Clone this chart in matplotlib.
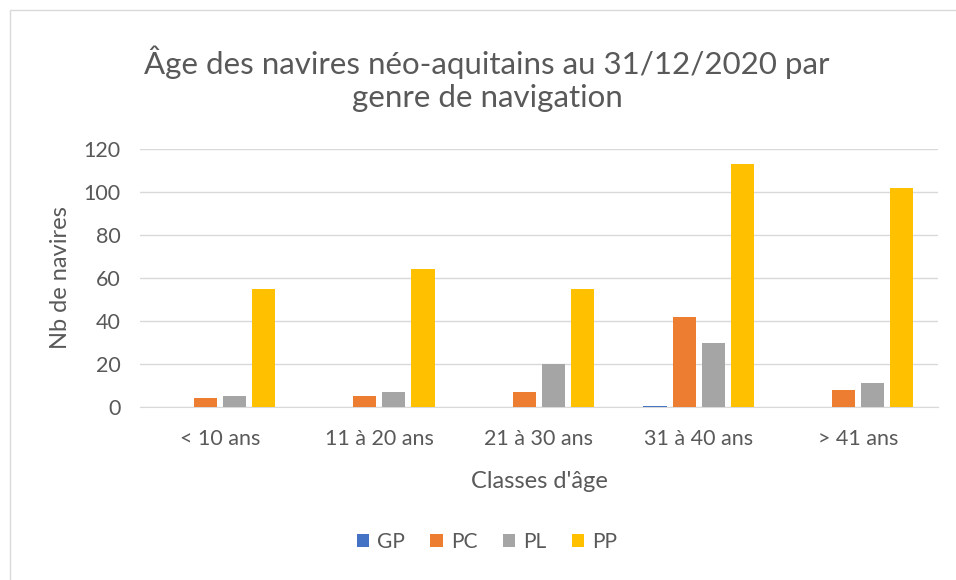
import matplotlib
matplotlib.use("Agg")
import matplotlib.pyplot as plt
import numpy as np
from matplotlib.patches import Rectangle

categories = ["< 10 ans", "11 à 20 ans", "21 à 30 ans", "31 à 40 ans", "> 41 ans"]
series_names = ["GP", "PC", "PL", "PP"]
gp = [0, 0, 0, 0.6, 0]
pc = [4, 5, 7, 42, 8]
pl = [5, 7, 20, 30, 11]
pp = [55, 64, 55, 113, 102]
colors = ["#4472C4", "#ED7D31", "#A5A5A5", "#FFC000"]
yticks = [0, 20, 40, 60, 80, 100, 120]

plt.rcParams['font.family'] = ['Lato', 'DejaVu Sans']
fig = plt.figure(figsize=(9.56, 5.8), dpi=100)
fig.patches.append(Rectangle((10/956, -0.1), 1.2, (570/580)+0.1, transform=fig.transFigure,
                             fill=False, edgecolor="#d9d9d9", linewidth=1))
ax = fig.add_axes([140/956, 1-407/580, (938-140)/956, (407-149)/580])

x = np.arange(len(categories))
w = 0.145
step = 0.182
for i, (vals, name) in enumerate(zip([gp, pc, pl, pp], series_names)):
    ax.bar(x + (i - 1.5) * step, vals, width=w, color=colors[i], label=name, zorder=3)

ax.set_xlim(-0.5, len(categories) - 0.5)
ax.set_ylim(0, 120)
ax.set_yticks(yticks)
ax.set_xticks(x)
ax.set_xticklabels(categories)
ax.grid(axis='y', color="#d9d9d9", linewidth=1, zorder=0)
for s in ["top", "right", "left"]:
    ax.spines[s].set_visible(False)
ax.spines["bottom"].set_color("#d9d9d9")
ax.tick_params(axis='both', length=0, labelsize=15.5, labelcolor="#595959")
ax.tick_params(axis='x', pad=16)
ax.tick_params(axis='y', pad=14)
ax.set_xlabel("Classes d'âge", fontsize=17, color="#595959", labelpad=16)
ax.set_ylabel("Nb de navires", fontsize=17, color="#595959", labelpad=9)

fig.text(487/956, 1-62/580, "Âge des navires néo-aquitains au 31/12/2020 par",
         ha="center", va="center", fontsize=22.5, color="#595959")
fig.text(487/956, 1-98/580, "genre de navigation",
         ha="center", va="center", fontsize=22.5, color="#595959")

leg = fig.legend(loc="center", bbox_to_anchor=(487/956, 1-542/580), ncol=4, frameon=False,
                 fontsize=15, handlelength=0.6, handleheight=0.6, columnspacing=1.2, handletextpad=0.4)
for t in leg.get_texts():
    t.set_color("#595959")

fig.savefig("out.png", dpi=100)
